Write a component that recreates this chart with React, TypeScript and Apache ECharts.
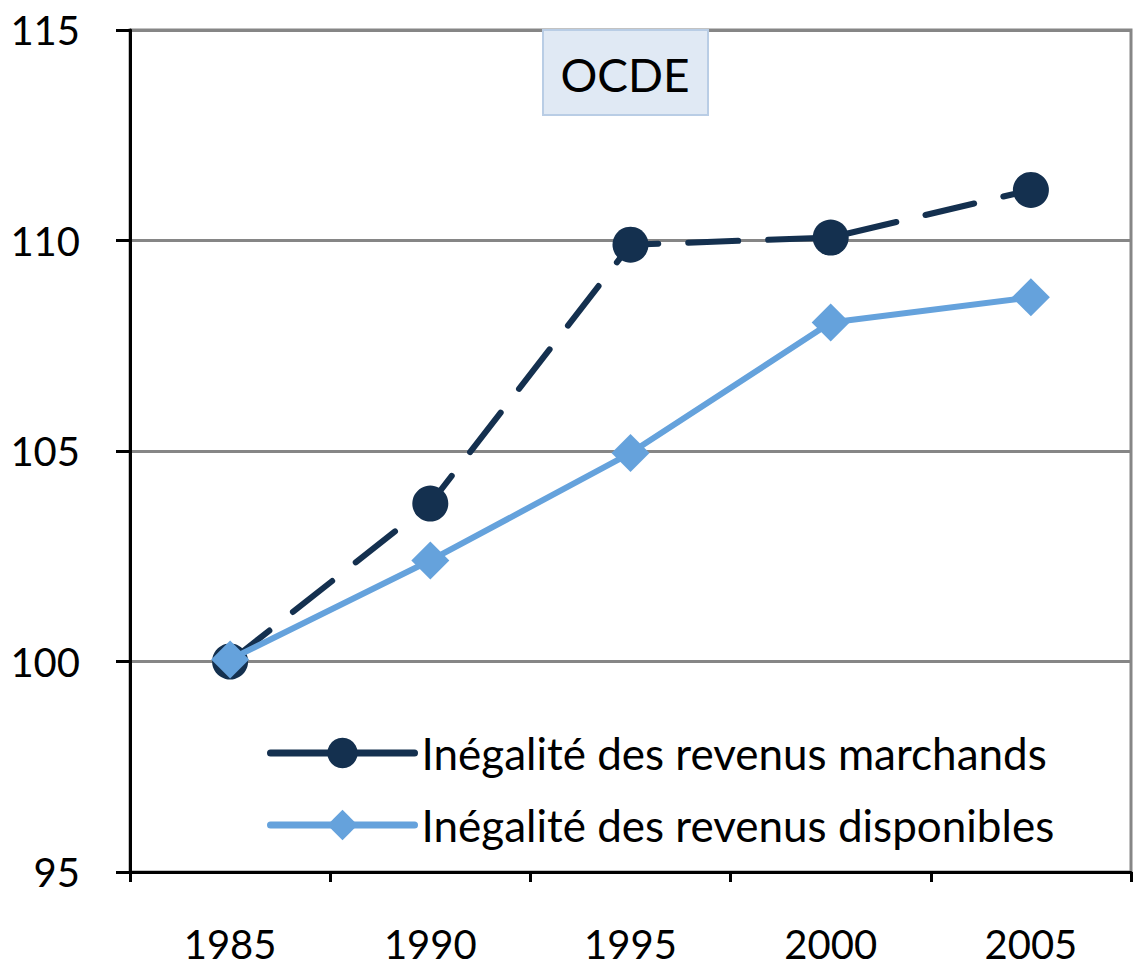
import React, { useEffect, useRef } from "react";
import * as echarts from "echarts";

const years = ["1985", "1990", "1995", "2000", "2005"];
const marchands = [100, 103.75, 109.9, 110.07, 111.2];
const disponibles = [100.05, 102.4, 104.95, 108.05, 108.65];
const seriesNames = ["Inégalité des revenus marchands", "Inégalité des revenus disponibles"];
const titleText = "OCDE";

const FONT = "Lato";
const DARK = "#14304f";
const LIGHT = "#65a2dc";

export default function App() {
  const ref = useRef<HTMLDivElement>(null);
  useEffect(() => {
    const chart = echarts.init(ref.current!, null, { renderer: "svg" });
    chart.setOption({
      animation: false,
      backgroundColor: "#ffffff",
      grid: {
        left: 130,
        right: 3,
        top: 30,
        bottom: 108,
        show: true,
        borderColor: "#868686",
        borderWidth: 3,
      },
      xAxis: {
        type: "category",
        data: years,
        boundaryGap: true,
        axisLine: { show: true, lineStyle: { color: "#000", width: 3 } },
        axisTick: { show: true, length: 10, alignWithLabel: false, lineStyle: { color: "#000", width: 3 } },
        axisLabel: { color: "#000", fontFamily: FONT, fontSize: 40, margin: 52 },
        splitLine: { show: false },
      },
      yAxis: {
        type: "value",
        min: 95,
        max: 115,
        interval: 5,
        axisLine: { show: true, lineStyle: { color: "#000", width: 3 } },
        axisTick: { show: true, length: 14, lineStyle: { color: "#000", width: 3 } },
        axisLabel: { color: "#000", fontFamily: FONT, fontSize: 40, margin: 50 },
        splitLine: { show: true, lineStyle: { color: "#868686", width: 3 } },
      },
      legend: {
        show: true,
        orient: "vertical",
        left: 262,
        top: 726,
        itemWidth: 144,
        itemHeight: 38,
        itemGap: 28,
        lineStyle: { type: "solid", width: 7, cap: "round" },
        textStyle: { color: "#000", fontFamily: FONT, fontSize: 44, padding: [0, 0, 0, 2] },
        data: seriesNames,
      },
      graphic: [
        {
          type: "rect",
          z: 100,
          shape: { x: 543, y: 30, width: 165, height: 85 },
          style: { fill: "#e0e9f4", stroke: "#b9cde5", lineWidth: 2 },
        },
        {
          type: "text",
          z: 101,
          x: 625,
          y: 74,
          style: {
            text: titleText,
            fill: "#000",
            font: `46px ${FONT}`,
            align: "center",
            verticalAlign: "middle",
          },
        },
      ],
      series: [
        {
          name: seriesNames[0],
          type: "line",
          data: marchands,
          symbol: "circle",
          symbolSize: 36,
          itemStyle: { color: DARK },
          lineStyle: { color: DARK, width: 6, type: [50, 30], cap: "round" },
          z: 3,
        },
        {
          name: seriesNames[1],
          type: "line",
          data: disponibles,
          symbol: "diamond",
          symbolSize: 38,
          itemStyle: { color: LIGHT },
          lineStyle: { color: LIGHT, width: 6, cap: "round" },
          z: 4,
        },
      ],
    });
    return () => chart.dispose();
  }, []);
  return (
    <div
      ref={ref}
      style={{ position: "fixed", left: 0, top: 0, width: 1134, height: 980 }}
    />
  );
}
